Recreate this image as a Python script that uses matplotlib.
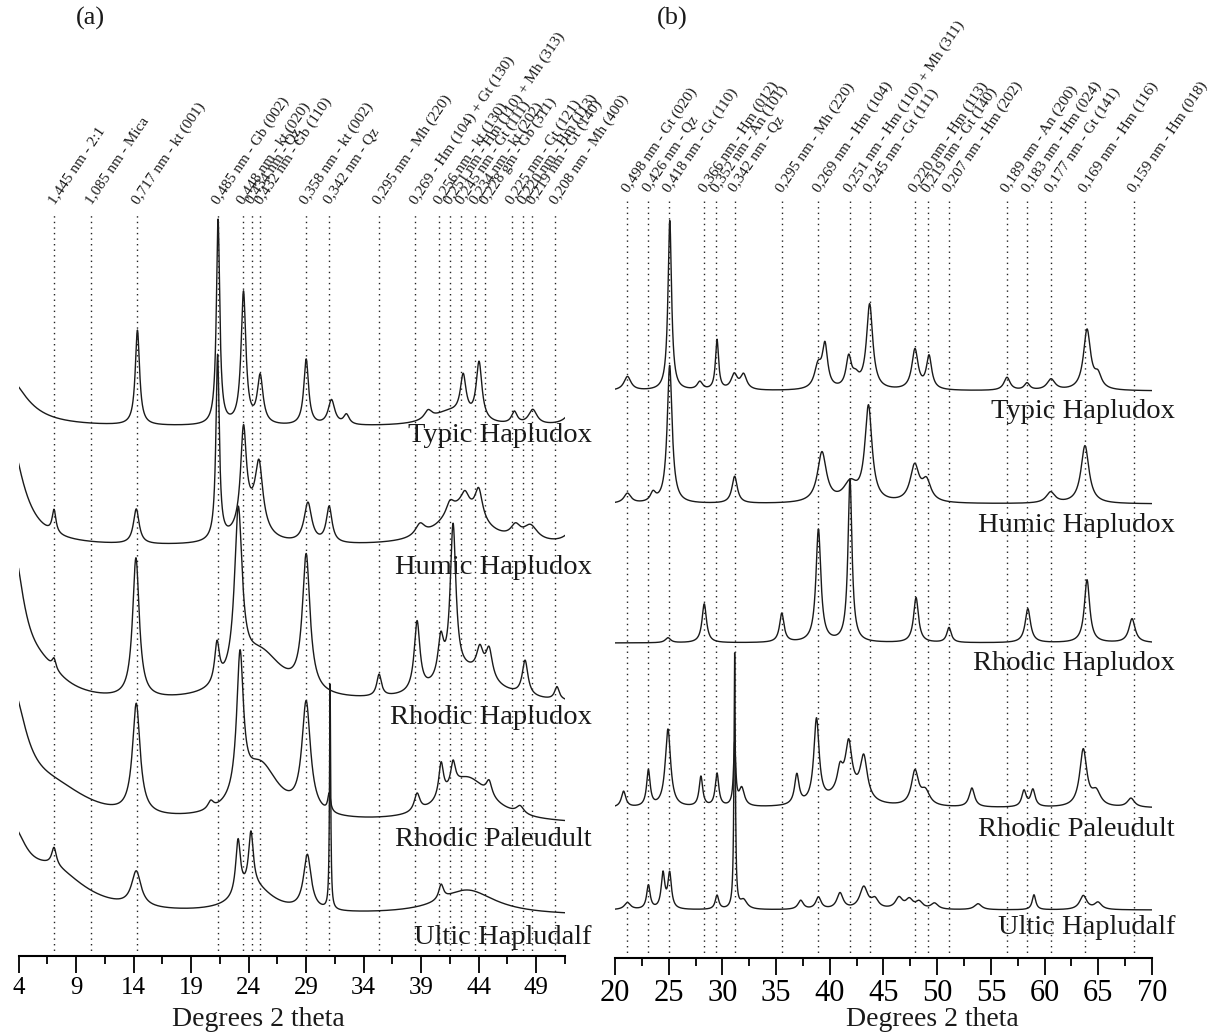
import numpy as np
import matplotlib
matplotlib.use("Agg")
import matplotlib.pyplot as plt

plt.rcParams['font.family'] = ['Liberation Serif', 'DejaVu Serif']

samples = ["Typic Hapludox", "Humic Hapludox", "Rhodic Hapludox",
           "Rhodic Paleudult", "Ultic Hapludalf"]

# ---------------- panel (a): clay fraction ----------------
a_lines = [7.10, 10.30, 14.33, 21.34, 23.49, 24.26, 25.01, 28.97, 30.99, 35.30,
           38.48, 40.57, 41.52, 42.48, 43.70, 44.57, 46.91, 47.87, 48.65, 50.67]
a_labels = ["1,445 nm - 2:1", "1,085 nm - Mica", "0,717 nm - kt (001)",
            "0,485 nm - Gb (002)", "0,448 nm - kt (020)", "0,434 nm - Qz",
            "0,432 nm - Gb (110)", "0,358 nm - kt (002)", "0,342 nm - Qz",
            "0,295 nm - Mh (220)", "0,269 - Hm (104) + Gt (130)",
            "0,256 nm - kt (130)", "0,251 nm - Hm (110) + Mh (313)",
            "0,245 nm - Gt (111)", "0,234 nm - kt (202)", "0,228 gm - Gb (311)",
            "0,225 nm - Gt (121)", "0,220 nm - Hm (113)", "0,219 nm - Gt (140)",
            "0,208 nm - Mh (400)"]
a_offsets = [529, 409, 251, 131, 40]

# peaks: (2 theta, height, fwhm)
a_typic = [(3.0, 50, 4.0), (14.33, 95, 0.45), (21.34, 205, 0.35), (23.55, 132, 0.5),
           (25.0, 48, 0.6), (29.0, 66, 0.5), (31.2, 25, 0.7), (32.5, 10, 0.6),
           (39.6, 9, 0.8), (41.5, 14, 4.0), (42.65, 40, 0.6), (44.03, 58, 0.6),
           (47.1, 12, 0.6), (48.7, 15, 0.9), (52.6, 35, 1.2)]
a_humic = [(3.0, 120, 3.0), (7.08, 23, 0.4), (14.23, 35, 0.6), (21.3, 185, 0.35),
           (24.2, 25, 2.5), (23.55, 95, 0.6), (24.9, 62, 0.8), (29.15, 40, 0.8),
           (31.0, 36, 0.6), (38.9, 12, 1.0), (42.5, 38, 4.5), (41.5, 12, 0.8),
           (42.8, 14, 0.8), (44.0, 30, 0.8), (47.2, 12, 1.0), (48.5, 15, 1.5),
           (52.6, 25, 1.5)]
a_rhodic_hap = [(3.4, 150, 2.4), (6.0, 25, 5.0), (7.08, 10, 0.4), (14.2, 140, 0.7),
                (21.25, 40, 0.5), (25.0, 48, 5.0), (23.1, 165, 0.8), (29.0, 135, 0.8),
                (35.34, 22, 0.5), (43.0, 30, 6.0), (38.64, 70, 0.6), (40.7, 40, 0.6),
                (41.77, 150, 0.6), (44.1, 25, 0.7), (44.9, 30, 0.7), (48.03, 35, 0.6),
                (50.8, 13, 0.5)]
a_rhodic_pal = [(3.4, 120, 3.0), (7.0, 30, 8.0), (14.23, 110, 0.8), (20.7, 8, 0.6),
                (25.0, 55, 4.0), (23.25, 140, 0.7), (29.0, 110, 0.9), (31.0, 18, 0.3),
                (38.64, 18, 0.6), (43.0, 45, 5.0), (40.73, 35, 0.5), (41.77, 25, 0.5),
                (44.9, 15, 0.6), (47.6, 8, 0.8)]
a_ultic = [(3.4, 70, 3.0), (7.0, 40, 7.0), (7.08, 18, 0.5), (14.23, 35, 1.0),
           (24.5, 25, 4.0), (23.08, 55, 0.5), (24.2, 55, 0.5), (29.1, 55, 0.8),
           (31.08, 225, 0.12), (40.73, 15, 0.5), (43.0, 25, 6.0)]
a_traces = [a_typic, a_humic, a_rhodic_hap, a_rhodic_pal, a_ultic]
a_label_y = [436, 568, 718, 839, 937]

# ---------------- panel (b): iron oxides ----------------
b_lines = [21.16, 23.11, 25.00, 28.31, 29.45, 31.14, 35.53, 38.94, 41.88, 43.71,
           47.93, 49.10, 51.10, 56.50, 58.40, 60.60, 63.76, 68.30]
b_labels = ["0,498 nm - Gt (020)", "0,426 nm - Qz", "0,418 nm - Gt (110)",
            "0,366 nm - Hm (012)", "0,352 nm - An (101)", "0,342 nm - Qz",
            "0,295 nm - Mh (220)", "0,269 nm - Hm (104)",
            "0,251 nm - Hm (110) + Mh (311)", "0,245 nm - Gt (111)",
            "0,220 nm - Hm (113)", "0,219 nm - Gt (140)", "0,207 nm - Hm (202)",
            "0,189 nm - An (200)", "0,183 nm - Hm (024)", "0,177 nm - Gt (141)",
            "0,169 nm - Hm (116)", "0,159 nm - Hm (018)"]
b_offsets = [567, 454, 315, 150, 48]

b_typic = [(21.16, 14, 0.8), (25.1, 170, 0.4), (27.9, 8, 0.6), (29.5, 50, 0.35),
           (31.1, 15, 0.7), (31.97, 15, 0.7), (38.9, 22, 0.8), (39.55, 42, 0.6),
           (41.76, 30, 0.6), (42.4, 10, 0.8), (43.71, 85, 0.7), (47.93, 40, 0.7),
           (49.24, 33, 0.6), (56.5, 13, 0.7), (58.36, 7, 0.6), (60.6, 11, 0.9),
           (63.95, 60, 0.8), (64.97, 13, 0.8)]
b_humic = [(21.16, 10, 0.8), (23.54, 9, 0.6), (25.09, 138, 0.55), (31.14, 27, 0.6),
           (39.27, 50, 1.0), (41.9, 18, 1.5), (43.6, 95, 0.8), (47.9, 36, 1.0),
           (49.0, 20, 1.0), (60.56, 11, 1.0), (63.76, 58, 0.9)]
b_rhodic_hap = [(24.93, 5, 0.6), (28.31, 39, 0.5), (35.53, 29, 0.5), (38.94, 113, 0.55),
                (41.88, 163, 0.45), (48.03, 45, 0.55), (51.10, 15, 0.5), (58.44, 34, 0.6),
                (63.95, 63, 0.6), (68.14, 24, 0.7)]
b_rhodic_pal = [(20.8, 16, 0.5), (23.11, 36, 0.4), (24.93, 78, 0.6), (28.0, 30, 0.4),
                (29.5, 33, 0.4), (31.14, 62, 0.25), (31.8, 18, 0.6), (36.93, 30, 0.5),
                (38.76, 84, 0.6), (41.5, 18, 3.0), (40.95, 20, 0.6), (41.76, 45, 0.7),
                (43.16, 42, 0.8), (47.93, 34, 0.8), (48.9, 14, 1.0), (53.23, 19, 0.6),
                (58.08, 16, 0.5), (58.91, 17, 0.5), (63.6, 57, 0.8), (64.8, 14, 1.0),
                (68.04, 9, 0.8)]
b_ultic = [(21.16, 7, 0.7), (23.11, 24, 0.4), (24.47, 35, 0.4), (25.09, 35, 0.4),
           (29.5, 14, 0.4), (31.14, 255, 0.15), (31.97, 9, 0.8), (37.29, 9, 0.6),
           (38.94, 12, 0.6), (40.95, 16, 0.7), (43.16, 22, 0.9), (44.2, 9, 0.8),
           (46.44, 11, 0.8), (47.4, 9, 0.8), (48.31, 7, 0.8), (49.75, 6, 0.8),
           (53.8, 6, 0.8), (59.01, 15, 0.4), (63.6, 14, 0.8), (64.97, 7, 0.8)]
b_traces = [b_typic, b_humic, b_rhodic_hap, b_rhodic_pal, b_ultic]
b_label_y = [412, 525, 663, 830, 928]


def pattern(x, peaks):
    y = np.zeros_like(x)
    for c, h, w in peaks:
        y += h / (1 + ((x - c) / (w / 2)) ** 2)
    return y


W, H = 1210, 1035
fig = plt.figure(figsize=(W / 100, H / 100), dpi=100)

ax_a = fig.add_axes([18.6 / W, (H - 956) / H, (565 - 18.6) / W, 956 / H])
ax_b = fig.add_axes([615 / W, (H - 958) / H, (1152 - 615) / W, 958 / H])

panels = [
    (ax_a, (4, 51.5), 956, a_lines, a_labels, a_offsets, a_traces, 744,
     np.arange(4, 50, 5), np.arange(6.5, 52, 5), 18, 592, a_label_y, 258, "(a)", 90),
    (ax_b, (20, 70), 958, b_lines, b_labels, b_offsets, b_traces, 758,
     np.arange(20, 71, 5), np.arange(22.5, 70, 5), 22, 1175, b_label_y, 932, "(b)", 672),
]

for (ax, xr, ytop, lines, labels, offs, traces, ltop, major, minor, tsize,
     name_x, name_y, title_x, tag, tag_x) in panels:
    ax.set_facecolor('none')
    x = np.arange(xr[0], xr[1] + 0.001, 0.01)
    for off, peaks in zip(offs, traces):
        ax.plot(x, off + pattern(x, peaks), color='#1a1a1a', lw=1.0)
    ax.vlines(lines, 0, ltop, colors='#222222', linestyles=(0, (1, 3)), lw=1.0)
    for pos, lab in zip(lines, labels):
        ax.text(pos - 0.2, ltop + 9, lab, rotation=56, rotation_mode='anchor',
                ha='left', va='center', fontsize=11, color='#1a1a1a',
                clip_on=False)
    ax.set_xlim(*xr)
    ax.set_ylim(0, ytop)
    for s in ['left', 'right', 'top']:
        ax.spines[s].set_visible(False)
    ax.spines['bottom'].set_linewidth(1.5)
    ax.set_yticks([])
    ax.set_xticks(major)
    ax.set_xticks(minor, minor=True)
    ax.tick_params(axis='x', which='major', direction='out', length=12, width=1.3,
                   labelsize=tsize, pad=3)
    ax.tick_params(axis='x', which='minor', direction='out', length=6, width=1.3)
    for nm, yy in zip(samples, name_y):
        fig.text(name_x / W, 1 - yy / H, nm, ha='right', va='center', fontsize=20.5,
                 color='#1a1a1a')
    fig.text(title_x / W, 1 - 1020 / H, "Degrees 2 theta", ha='center', va='center',
             fontsize=20, color='#1a1a1a')
    fig.text(tag_x / W, 1 - 18 / H, tag, ha='center', va='center', fontsize=19,
             color='#1a1a1a')

fig.savefig("out.png", dpi=100)
plt.close(fig)
